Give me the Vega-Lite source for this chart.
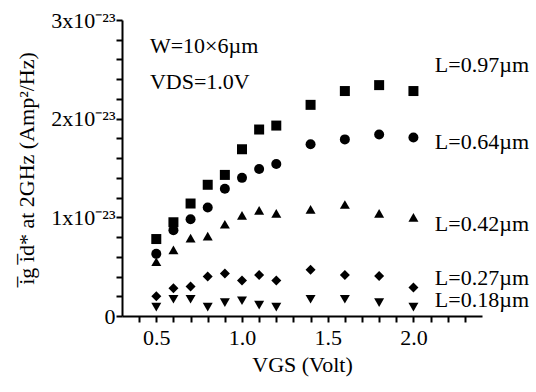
{
  "$schema": "https://vega.github.io/schema/vega-lite/v6.json",
  "width": 360,
  "height": 296,
  "autosize": {"type": "none"},
  "padding": {"left": 122, "top": 20, "right": 54, "bottom": 76},
  "background": "white",
  "config": {
    "view": {"stroke": null},
    "font": "Liberation Serif",
    "axis": {
      "domainColor": "black",
      "domainWidth": 2,
      "grid": false,
      "ticks": true,
      "tickColor": "black",
      "tickWidth": 2,
      "tickSize": 6,
      "labelColor": "black",
      "titleColor": "black",
      "labelFont": "Liberation Serif",
      "titleFont": "Liberation Serif",
      "labelFontSize": 22,
      "titleFontSize": 22,
      "titleFontWeight": "normal",
      "labelOverlap": false,
      "labelFlush": false,
      "labelBound": false
    }
  },
  "datasets": {
    "pts": [
      {"v": 0.5, "L": "0.97", "y": 0.78}, {"v": 0.6, "L": "0.97", "y": 0.95}, {"v": 0.7, "L": "0.97", "y": 1.14},
      {"v": 0.8, "L": "0.97", "y": 1.33}, {"v": 0.9, "L": "0.97", "y": 1.43}, {"v": 1.0, "L": "0.97", "y": 1.69},
      {"v": 1.1, "L": "0.97", "y": 1.89}, {"v": 1.2, "L": "0.97", "y": 1.93}, {"v": 1.4, "L": "0.97", "y": 2.14},
      {"v": 1.6, "L": "0.97", "y": 2.28}, {"v": 1.8, "L": "0.97", "y": 2.34}, {"v": 2.0, "L": "0.97", "y": 2.28},
      {"v": 0.5, "L": "0.64", "y": 0.63}, {"v": 0.6, "L": "0.64", "y": 0.87}, {"v": 0.7, "L": "0.64", "y": 0.98},
      {"v": 0.8, "L": "0.64", "y": 1.10}, {"v": 0.9, "L": "0.64", "y": 1.29}, {"v": 1.0, "L": "0.64", "y": 1.40},
      {"v": 1.1, "L": "0.64", "y": 1.49}, {"v": 1.2, "L": "0.64", "y": 1.54}, {"v": 1.4, "L": "0.64", "y": 1.74},
      {"v": 1.6, "L": "0.64", "y": 1.79}, {"v": 1.8, "L": "0.64", "y": 1.84}, {"v": 2.0, "L": "0.64", "y": 1.81},
      {"v": 0.5, "L": "0.42", "y": 0.55}, {"v": 0.6, "L": "0.42", "y": 0.67}, {"v": 0.7, "L": "0.42", "y": 0.79},
      {"v": 0.8, "L": "0.42", "y": 0.81}, {"v": 0.9, "L": "0.42", "y": 0.93}, {"v": 1.0, "L": "0.42", "y": 1.02},
      {"v": 1.1, "L": "0.42", "y": 1.07}, {"v": 1.2, "L": "0.42", "y": 1.04}, {"v": 1.4, "L": "0.42", "y": 1.08},
      {"v": 1.6, "L": "0.42", "y": 1.13}, {"v": 1.8, "L": "0.42", "y": 1.04}, {"v": 2.0, "L": "0.42", "y": 1.0},
      {"v": 0.5, "L": "0.27", "y": 0.2}, {"v": 0.6, "L": "0.27", "y": 0.28}, {"v": 0.7, "L": "0.27", "y": 0.3},
      {"v": 0.8, "L": "0.27", "y": 0.4}, {"v": 0.9, "L": "0.27", "y": 0.43}, {"v": 1.0, "L": "0.27", "y": 0.36},
      {"v": 1.1, "L": "0.27", "y": 0.415}, {"v": 1.2, "L": "0.27", "y": 0.36}, {"v": 1.4, "L": "0.27", "y": 0.47},
      {"v": 1.6, "L": "0.27", "y": 0.415}, {"v": 1.8, "L": "0.27", "y": 0.405}, {"v": 2.0, "L": "0.27", "y": 0.29},
      {"v": 0.5, "L": "0.18", "y": 0.09}, {"v": 0.6, "L": "0.18", "y": 0.17}, {"v": 0.7, "L": "0.18", "y": 0.17},
      {"v": 0.8, "L": "0.18", "y": 0.09}, {"v": 0.9, "L": "0.18", "y": 0.135}, {"v": 1.0, "L": "0.18", "y": 0.155},
      {"v": 1.1, "L": "0.18", "y": 0.11}, {"v": 1.2, "L": "0.18", "y": 0.09}, {"v": 1.4, "L": "0.18", "y": 0.17},
      {"v": 1.6, "L": "0.18", "y": 0.17}, {"v": 1.8, "L": "0.18", "y": 0.135}, {"v": 2.0, "L": "0.18", "y": 0.09}
    ],
    "labels": [
      {"v": 0.463, "y": 2.74, "text": "W=10×6µm"},
      {"v": 0.463, "y": 2.37, "text": "VDS=1.0V"},
      {"v": 2.125, "y": 2.54, "text": "L=0.97µm"},
      {"v": 2.125, "y": 1.76, "text": "L=0.64µm"},
      {"v": 2.125, "y": 0.93, "text": "L=0.42µm"},
      {"v": 2.125, "y": 0.39, "text": "L=0.27µm"},
      {"v": 2.125, "y": 0.16, "text": "L=0.18µm"}
    ]
  },
  "encoding": {
    "x": {
      "field": "v", "type": "quantitative",
      "scale": {"domain": [0.3, 2.4], "nice": false, "zero": false},
      "axis": {
        "title": "VGS (Volt)",
        "values": [0.4, 0.5, 0.6, 0.7, 0.8, 0.9, 1.0, 1.1, 1.2, 1.3, 1.4, 1.5, 1.6, 1.7, 1.8, 1.9, 2.0, 2.1, 2.2, 2.3],
        "labelExpr": "abs(datum.value*2 - round(datum.value*2)) < 0.001 ? format(datum.value, '.1f') : ''",
        "labelOverlap": false,
        "labelPadding": 5,
        "titlePadding": 6
      }
    },
    "y": {
      "field": "y", "type": "quantitative",
      "scale": {"domain": [0, 3], "nice": false},
      "axis": {
        "title": "i̅g i̅d* at 2GHz (Amp²/Hz)",
        "values": [0, 0.2, 0.4, 0.6, 0.8, 1, 1.2, 1.4, 1.6, 1.8, 2, 2.2, 2.4, 2.6, 2.8, 3],
        "labelExpr": "datum.value == 0 ? '0' : (abs(datum.value - round(datum.value)) < 0.001 ? datum.value + 'x10⁻²³' : '')",
        "labelOverlap": false,
        "labelPadding": 1,
        "titlePadding": 12
      }
    }
  },
  "layer": [
    {
      "data": {"name": "pts"},
      "mark": {"type": "point", "filled": true, "opacity": 1, "color": "black"},
      "encoding": {
        "shape": {
          "field": "L", "type": "nominal",
          "scale": {"domain": ["0.97", "0.64", "0.42", "0.27", "0.18"], "range": ["square", "circle", "triangle-up", "diamond", "triangle-down"]},
          "legend": null
        },
        "size": {
          "field": "L", "type": "nominal",
          "scale": {"domain": ["0.97", "0.64", "0.42", "0.27", "0.18"], "range": [100, 100, 130, 110, 130]},
          "legend": null
        }
      }
    },
    {
      "data": {"name": "labels"},
      "mark": {"type": "text", "align": "left", "baseline": "middle", "font": "Liberation Serif", "fontSize": 22, "color": "black"},
      "encoding": {
        "text": {"field": "text"}
      }
    }
  ]
}
